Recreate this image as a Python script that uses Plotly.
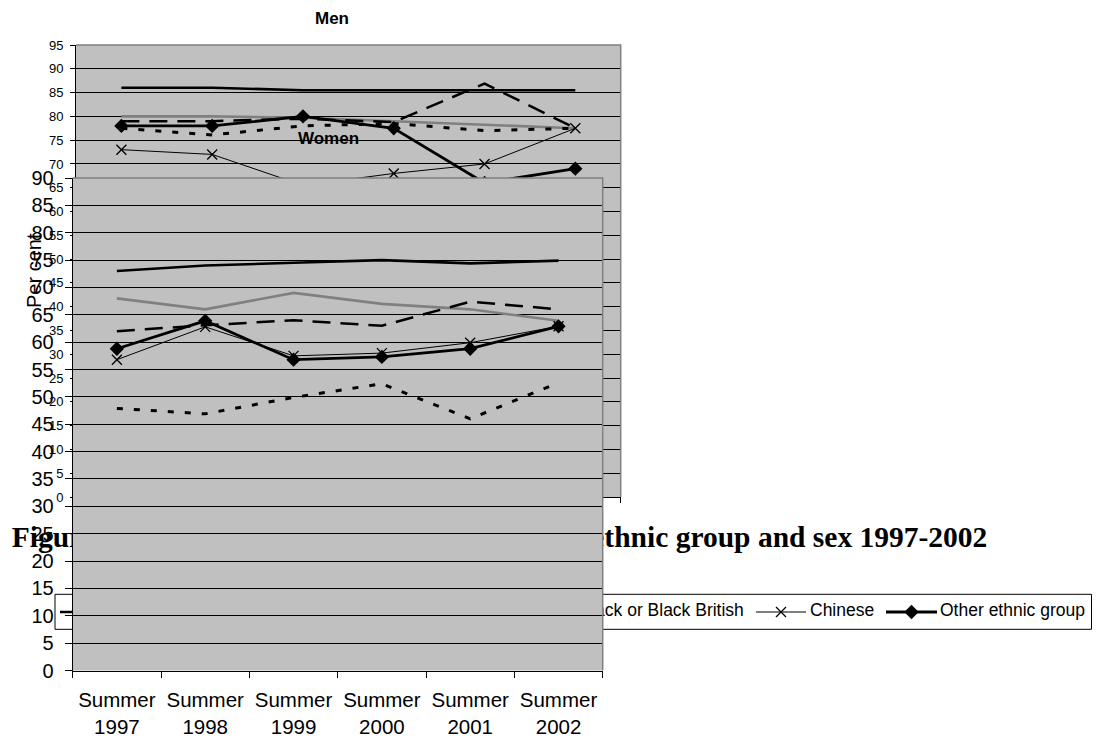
import plotly.graph_objects as go

W, H = 1097, 739


def fx(x):
    return x / W


def fy(y):
    return 1 - y / H


# ---------------- data ----------------
categories = ["Summer 1997", "Summer 1998", "Summer 1999", "Summer 2000", "Summer 2001", "Summer 2002"]
tick_labels = ["Summer<br>1997", "Summer<br>1998", "Summer<br>1999", "Summer<br>2000", "Summer<br>2001", "Summer<br>2002"]
series_names = ["White", "Mixed", "Asian or Asian British", "Black or Black British", "Chinese", "Other ethnic group"]

men_white = [86, 86, 85.5, 85.5, 85.5, 85.5]
men_mixed = [80, 80, 79.7, 79, 78.2, 77.5]
men_asian = [77.5, 76.1, 78, 78.5, 77, 77.5]
men_black = [79, 79, 79.5, 78.8, 86.9, 77.5]
men_chinese = [73, 72, 65.5, 68, 70, 77.5]
men_other = [78, 78, 80, 77.5, 66, 69]

women_white = [73, 74, 74.5, 75, 74.4, 74.9]
women_mixed = [68, 66, 69, 67, 66, 63.9]
women_asian = [47.9, 46.9, 49.9, 52.4, 46, 52.6]
women_black = [62, 63.1, 64, 63, 67.4, 66]
women_chinese = [56.8, 62.8, 57.5, 58, 59.9, 62.9]
women_other = [58.8, 63.9, 56.8, 57.3, 58.8, 62.9]

men_values = [men_white, men_mixed, men_asian, men_black, men_chinese, men_other]
women_values = [women_white, women_mixed, women_asian, women_black, women_chinese, women_other]

men_title = "Men"
women_title = "Women"
y_title = "Per cent"
figure_title = "Figure 4: Economic activity rates of adults by ethnic group and sex 1997-2002"

# ---------------- styles ----------------
FONT = "Liberation Sans, Arial, sans-serif"
SERIF = "Liberation Serif, Times New Roman, serif"
GRAY_BG = "#C0C0C0"

styles = [
    dict(mode="lines", line=dict(color="black", width=2.6)),
    dict(mode="lines", line=dict(color="#808080", width=2.6)),
    dict(mode="lines", line=dict(color="black", width=3, dash="6px,11px")),
    dict(mode="lines", line=dict(color="black", width=2.5, dash="18px,10px")),
    dict(mode="lines+markers", line=dict(color="black", width=1),
         marker=dict(symbol="x-thin", size=10, color="black", line=dict(width=1.3, color="black"))),
    dict(mode="lines+markers", line=dict(color="black", width=2.8),
         marker=dict(symbol="diamond", size=11, color="black")),
]

fig = go.Figure()

# Men chart (subplot 1, drawn first = underneath)
for name, vals, st in zip(series_names, men_values, styles):
    fig.add_trace(go.Scatter(x=categories, y=vals, name=name, xaxis="x", yaxis="y",
                             showlegend=False, hoverinfo="skip", **st))

# Page subplot (figure title + legend), drawn under the women chart
PAGE_TOP = 500
fig.add_trace(go.Scatter(x=[11.7], y=[539.5], mode="text", text=[figure_title],
                         textposition="middle right", xaxis="x2", yaxis="y2",
                         textfont=dict(family=SERIF, size=29.5, color="black", weight="bold"),
                         showlegend=False, hoverinfo="skip"))

legend_y = 612
legend_line_x = [(60, 110), (172, 221), (292, 341), (526, 575), (756, 806), (886, 937)]
legend_text_x = [114, 225, 345, 579.5, 810, 940]
for (x0, x1), st in zip(legend_line_x, styles):
    fig.add_trace(go.Scatter(x=[x0, x1], y=[legend_y, legend_y], mode="lines", line=st["line"],
                             xaxis="x2", yaxis="y2", showlegend=False, hoverinfo="skip"))
    if "marker" in st:
        fig.add_trace(go.Scatter(x=[(x0 + x1) / 2], y=[legend_y], mode="markers", marker=st["marker"],
                                 xaxis="x2", yaxis="y2", showlegend=False, hoverinfo="skip"))
fig.add_trace(go.Scatter(x=legend_text_x, y=[legend_y] * len(series_names), mode="text",
                         text=series_names, textposition="middle right", xaxis="x2", yaxis="y2",
                         textfont=dict(family=FONT, size=17.5, color="black"),
                         showlegend=False, hoverinfo="skip"))

# Women chart (subplot 3, drawn last = on top)
for name, vals, st in zip(series_names, women_values, styles):
    fig.add_trace(go.Scatter(x=categories, y=vals, name=name, xaxis="x3", yaxis="y3",
                             showlegend=False, hoverinfo="skip", **st))

MEN_L, MEN_R, MEN_T, MEN_B = 76, 620.7, 45, 497
WOM_L, WOM_R, WOM_T, WOM_B = 72.7, 602.7, 178, 670.5

cat_axis = dict(type="category", categoryorder="array", categoryarray=categories,
                tickvals=categories, ticktext=tick_labels, range=[-0.5, 5.5],
                tickson="boundaries", ticks="outside", tickcolor="black",
                showline=True, linecolor="black", linewidth=1, showgrid=False,
                zeroline=False, fixedrange=True, automargin=False)

fig.update_layout(
    width=W, height=H, autosize=False,
    margin=dict(l=0, r=0, t=0, b=0, pad=0, autoexpand=False),
    paper_bgcolor="white",
    plot_bgcolor=GRAY_BG,
    showlegend=False,
    font=dict(family=FONT, color="black"),
    xaxis=dict(cat_axis, domain=[fx(MEN_L), fx(MEN_R)], anchor="y", ticklen=5,
               tickfont=dict(size=13)),
    yaxis=dict(domain=[fy(MEN_B), fy(MEN_T)], anchor="x", range=[0, 95], tick0=0, dtick=5,
               ticks="outside", ticklen=5, tickcolor="black", showline=True, linecolor="black",
               showgrid=True, gridcolor="black", gridwidth=1, zeroline=False, automargin=False,
               tickfont=dict(size=13), ticklabelstandoff=4, fixedrange=True),
    xaxis2=dict(domain=[0, 1], anchor="y2", range=[0, W], visible=False, fixedrange=True,
                automargin=False),
    yaxis2=dict(domain=[0, fy(PAGE_TOP)], anchor="x2", range=[H, PAGE_TOP], visible=False,
                fixedrange=True, automargin=False),
    xaxis3=dict(cat_axis, domain=[fx(WOM_L), fx(WOM_R)], anchor="y3", ticklen=6,
                tickfont=dict(size=20.5), ticklabelstandoff=11),
    yaxis3=dict(domain=[fy(WOM_B), fy(WOM_T)], anchor="x3", range=[0, 90], tick0=0, dtick=5,
                ticks="outside", ticklen=7, tickcolor="black", showline=True, linecolor="black",
                showgrid=True, gridcolor="black", gridwidth=1, zeroline=False, automargin=False,
                tickfont=dict(size=20), ticklabelstandoff=7, fixedrange=True),
    shapes=[
        # white paper under the page subplot (hides its plot background)
        dict(type="rect", xref="paper", yref="paper", x0=0, x1=1, y0=0, y1=fy(497.6),
             fillcolor="white", line=dict(width=0), layer="below"),
        # legend box
        dict(type="rect", xref="x2", yref="y2", x0=55, x1=1091.5, y0=594.3, y1=629.3,
             fillcolor="white", line=dict(color="black", width=1), layer="below"),
        # men plot border (top/right)
        dict(type="path", xref="paper", yref="paper",
             path=f"M {fx(MEN_L)} {fy(MEN_T)} L {fx(MEN_R)} {fy(MEN_T)} L {fx(MEN_R)} {fy(MEN_B)}",
             line=dict(color="#808080", width=1.5), layer="above"),
        # women plot border (top/right)
        dict(type="path", xref="paper", yref="paper",
             path=f"M {fx(WOM_L)} {fy(WOM_T)} L {fx(WOM_R)} {fy(WOM_T)} L {fx(WOM_R)} {fy(WOM_B)}",
             line=dict(color="#808080", width=1.5), layer="above"),
    ],
    annotations=[
        dict(text=f"<b>{men_title}</b>", x=fx(332), y=fy(19), xref="paper", yref="paper",
             showarrow=False, xanchor="center", yanchor="middle", font=dict(size=17)),
        dict(text=f"<b>{women_title}</b>", x=fx(328), y=fy(139), xref="paper", yref="paper",
             showarrow=False, xanchor="center", yanchor="middle", font=dict(size=17)),
        dict(text=y_title, x=fx(34), y=fy(271), xref="paper", yref="paper", textangle=-90,
             showarrow=False, xanchor="center", yanchor="middle", font=dict(size=20)),
    ],
)

fig.write_html("out.html")
